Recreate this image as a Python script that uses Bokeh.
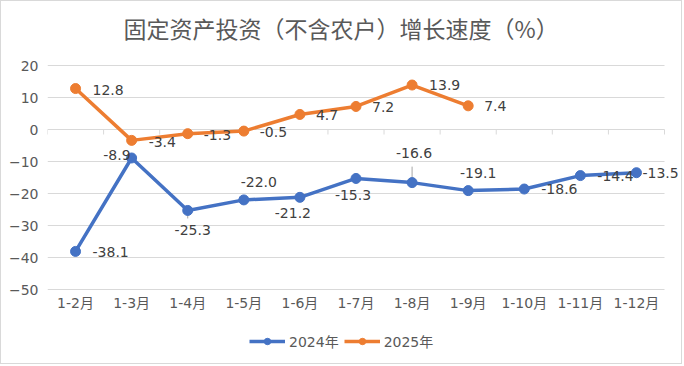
from bokeh.plotting import figure
from bokeh.models import ColumnDataSource, Range1d, FixedTicker, Legend, LegendItem
from bokeh.core.properties import value
from bokeh.embed import file_html
from bokeh.resources import INLINE

# ---------------- data ----------------
categories = ["1-2月", "1-3月", "1-4月", "1-5月", "1-6月", "1-7月",
              "1-8月", "1-9月", "1-10月", "1-11月", "1-12月"]
values_2024 = [-38.1, -8.9, -25.3, -22.0, -21.2, -15.3, -16.6, -19.1, -18.6, -14.4, -13.5]
values_2025 = [12.8, -3.4, -1.3, -0.5, 4.7, 7.2, 13.9, 7.4]
series_names = ["2024年", "2025年"]
y_ticks = [-50, -40, -30, -20, -10, 0, 10, 20]
title_text = "固定资产投资（不含农户）增长速度（%）"

# ---------------- style / layout ----------------
FONT = "DejaVu Sans, Noto Sans CJK SC"
TITLE_FONT = "Noto Sans CJK SC"
BLUE = "#4472C4"
ORANGE = "#ED7D31"
GRID = "#D9D9D9"
AXIS_TEXT = "#595959"
LABEL_TEXT = "#404040"

W, H = 682, 364
LEFT, RIGHT = 46, 5          # frame borders in px
PLOT_TOP, PLOT_BOTTOM = 64, 288  # pixel rows of the top and bottom gridlines
CAT_PX = 617 / 11.0          # px per category
PX_PER_UNIT = (PLOT_BOTTOM - PLOT_TOP) / float(y_ticks[-1] - y_ticks[0])

# label placement (screen px offsets from each point, align)
off_2024 = [(17, 1, "left"), (-1, -3, "right"), (5, 20, "center"), (15, -18, "center"),
            (-7, 16, "center"), (-3, 17, "center"), (2, -30, "center"), (10, -18, "center"),
            (17, 0, "left"), (17, 0, "left"), (6, 0, "left")]
off_2025 = [(17, 1, "left"), (17, 2, "left"), (16, 1, "left"), (16, 1, "left"),
            (16, 1, "left"), (16, 1, "left"), (17, 0, "left"), (16, 0, "left")]

xs = list(range(len(categories)))
x_lo, x_hi = xs[0] - 0.5, xs[-1] + 0.5
frame_w = W - LEFT - RIGHT
x_end = x_lo + frame_w / CAT_PX
y_top = y_ticks[-1] + PLOT_TOP / PX_PER_UNIT
y_bot = y_ticks[0] - (H - PLOT_BOTTOM) / PX_PER_UNIT

p = figure(x_range=Range1d(x_lo, x_end), y_range=Range1d(y_bot, y_top),
           width=W, height=H, output_backend="svg", toolbar_location=None,
           min_border_left=LEFT, min_border_right=RIGHT, min_border_top=0, min_border_bottom=0)
p.styles = {"border": "1px solid #D9D9D9"}
p.outline_line_color = None
p.background_fill_color = "white"
p.border_fill_color = "white"
p.xaxis.visible = False

p.yaxis.ticker = FixedTicker(ticks=y_ticks)
p.yaxis.axis_line_color = None
p.yaxis.major_tick_line_color = None
p.yaxis.minor_tick_line_color = None
p.yaxis.major_tick_out = 0
p.yaxis.major_tick_in = 0
p.yaxis.major_label_standoff = 9
p.yaxis.major_label_text_font = FONT
p.yaxis.major_label_text_font_size = "14px"
p.yaxis.major_label_text_color = AXIS_TEXT

p.xgrid.grid_line_color = None
p.ygrid.grid_line_color = None

# title
p.text(x=[x_lo], y=[y_ticks[-1]], text=[title_text], x_offset=76, y_offset=-38,
       text_align="left", text_baseline="middle", text_font=value(TITLE_FONT),
       text_font_size="23px", text_color=AXIS_TEXT)

# horizontal gridlines (drawn across the category span only)
grid_src = ColumnDataSource(dict(x0=[x_lo] * len(y_ticks), x1=[x_hi] * len(y_ticks), y=y_ticks))
p.segment(x0="x0", x1="x1", y0="y", y1="y", source=grid_src, line_color=GRID, line_width=1)

# zero-line tick marks at category boundaries
tick_len = 5 / PX_PER_UNIT
bounds = [x - 0.5 for x in xs] + [x_hi]
tick_src = ColumnDataSource(dict(x=bounds, y0=[0] * len(bounds), y1=[-tick_len] * len(bounds)))
p.segment(x0="x", x1="x", y0="y0", y1="y1", source=tick_src, line_color=GRID, line_width=1)

# category labels under the bottom gridline
cat_src = ColumnDataSource(dict(x=xs, y=[y_ticks[0]] * len(xs), t=categories))
p.text("x", "y", text="t", source=cat_src, y_offset=13, text_align="center",
       text_baseline="middle", text_font=value(FONT), text_font_size="14px",
       text_color=AXIS_TEXT)

# leader lines for two labels
leader_src = ColumnDataSource(dict(
    x=[xs[2], xs[6]],
    y0=[values_2024[2], values_2024[6]],
    y1=[values_2024[2] - 8 / PX_PER_UNIT, values_2024[6] + 16 / PX_PER_UNIT]))
p.segment(x0="x", x1="x", y0="y0", y1="y1", source=leader_src, line_color="#A6A6A6", line_width=1)

src24 = ColumnDataSource(dict(
    x=xs, y=values_2024, t=["%.1f" % v for v in values_2024],
    dx=[o[0] for o in off_2024], dy=[o[1] for o in off_2024], al=[o[2] for o in off_2024]))
src25 = ColumnDataSource(dict(
    x=xs[:len(values_2025)], y=values_2025, t=["%.1f" % v for v in values_2025],
    dx=[o[0] for o in off_2025], dy=[o[1] for o in off_2025], al=[o[2] for o in off_2025]))

l24 = p.line("x", "y", source=src24, line_color=BLUE, line_width=3.5, line_join="round")
s24 = p.scatter("x", "y", source=src24, size=10, fill_color=BLUE, line_color=BLUE)
l25 = p.line("x", "y", source=src25, line_color=ORANGE, line_width=3.5, line_join="round")
s25 = p.scatter("x", "y", source=src25, size=10, fill_color=ORANGE, line_color=ORANGE)

for src in (src24, src25):
    p.text("x", "y", text="t", source=src, x_offset="dx", y_offset="dy", text_align="al",
           text_baseline="middle", text_font=value(FONT), text_font_size="14px",
           text_color=LABEL_TEXT)

legend = Legend(items=[LegendItem(label=series_names[0], renderers=[l24, s24]),
                       LegendItem(label=series_names[1], renderers=[l25, s25])],
                orientation="horizontal", location=(202, 14),
                glyph_width=36, glyph_height=16, label_standoff=4, spacing=5,
                padding=0, margin=0, label_text_font=FONT, label_text_font_size="14px",
                label_text_color=AXIS_TEXT, label_height=16,
                background_fill_alpha=0, border_line_color=None)
p.add_layout(legend)

open("out.html", "w").write(file_html(p, INLINE))
